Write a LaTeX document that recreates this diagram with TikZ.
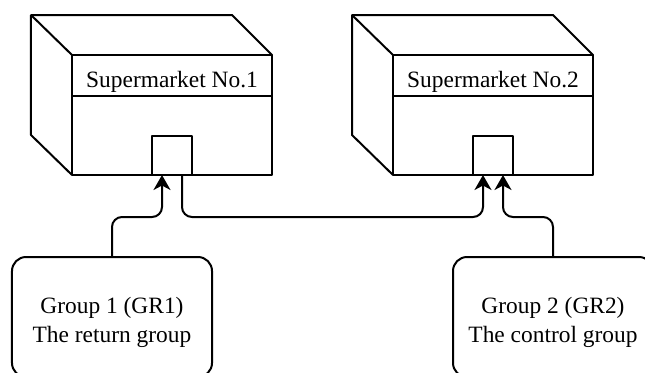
\documentclass[tikz,border=0pt]{standalone}
\usepackage{fontspec}
\setmainfont{Liberation Serif}
\usetikzlibrary{arrows.meta}
\begin{document}
\begin{tikzpicture}[x=1bp,y=-1bp, line width=2bp, line join=round,
  face/.style={draw, minimum width=200bp, minimum height=120bp, inner sep=0pt, outer sep=0pt},
  band/.style={draw, minimum width=200bp, minimum height=41bp, inner sep=0pt, outer sep=0pt},
  txt/.style={align=center, inner sep=0pt, font=\fontsize{23.5}{30}\selectfont},
  door/.style={draw, minimum width=40bp, minimum height=39bp, inner sep=0pt, outer sep=0pt},
  group/.style={draw, rounded corners=14bp, minimum width=200bp, minimum height=120bp, inner sep=0pt, outer sep=0pt},
  conn/.style={rounded corners=10bp},
  arr/.style={conn, -{Stealth[length=15bp,width=17bp,inset=4.5bp]}}]
\useasboundingbox (0,0) rectangle (645,372);
% Building 1
\node[face] (f1) at (172,115) {};
\draw (f1.south west) -- ++(-41,-40) -- ++(0,-120) -- ++(201,0) -- (f1.north east);
\draw (f1.north west) -- ++(-41,-40);
\node[band, anchor=north] (l1) at (f1.north) {};
\node[txt, anchor=base] (t1) at (172,87) {Supermarket No.1};
\node[door, anchor=south] (d1) at (f1.south) {};
% Building 2
\node[face] (f2) at (493,115) {};
\draw (f2.south west) -- ++(-41,-40) -- ++(0,-120) -- ++(201,0) -- (f2.north east);
\draw (f2.north west) -- ++(-41,-40);
\node[band, anchor=north] (l2) at (f2.north) {};
\node[txt, anchor=base] (t2) at (493,87) {Supermarket No.2};
\node[door, anchor=south] (d2) at (f2.south) {};
% Groups
\node[group] (g1) at (112,317) {};
\node[txt, anchor=base] (g1a) at (112,313) {Group 1 (GR1)};
\node[txt, anchor=base] (g1b) at (112,342) {The return group};
\node[group] (g2) at (553,317) {};
\node[txt, anchor=base] (g2a) at (553,313) {Group 2 (GR2)};
\node[txt, anchor=base] (g2b) at (553,342) {The control group};
% Connectors
\draw[arr] (g1.north) -- ++(0,-40) -| ([xshift=-10bp]d1.south);
\draw[arr] ([xshift=10bp]d1.south) -- ++(0,42) -| ([xshift=-10bp]d2.south);
\draw[arr] (g2.north) -- ++(0,-40) -| ([xshift=10bp]d2.south);
\end{tikzpicture}
\end{document}
